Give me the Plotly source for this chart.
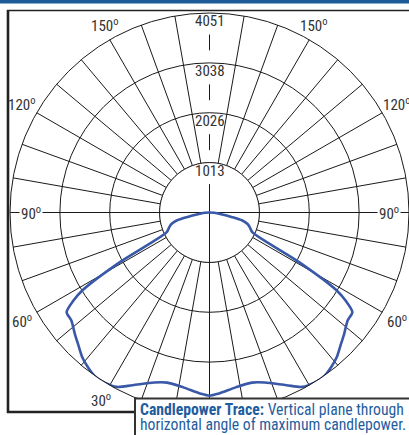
import numpy as np
import plotly.graph_objects as go

# ---------------- data ----------------
radial_ticks = [1013, 2026, 3038, 4051]
radial_tick_labels = ["1013", "2026", "3038", "4051"]

# vertical angle from nadir (deg) and candela, one side of the plane
trace_angles = [0, 3, 8.5, 14, 18, 24, 28, 32, 35, 38.4, 41.4, 44.6, 48, 52,
                55.1, 57.1, 58.5, 61, 65.3, 70, 73.4, 76.3, 78.4, 82, 86, 90]
trace_candela = [3720, 3680, 3590, 3560, 3630, 3838, 4010, 4060, 4060, 3990,
                 3910, 3790, 3680, 3560, 3537, 3290, 3030, 2080, 957, 869,
                 801, 686, 473, 195, 90, 0]

angle_label_values = [150, 120, 90, 60, 30]

# ---------------- geometry ----------------
W, H = 409, 435
CX, CY, R = 209.5, 212.5, 199.5
RMAX = radial_ticks[-1]


def px(x):
    return x / W


def py(y):
    return 1 - y / H


font_family = "Liberation Sans Narrow, Arial Narrow, Roboto Condensed, Liberation Sans, sans-serif"
line_col = "#1a1a1a"

fig = go.Figure()

# white mask for the inner circle (hides radial grid inside)
circ_t = np.linspace(0, 360, 181)
fig.add_trace(go.Scatterpolar(
    r=[radial_ticks[0]] * len(circ_t), theta=circ_t, mode="lines",
    fill="toself", fillcolor="white", line=dict(color=line_col, width=1),
    hoverinfo="skip", showlegend=False))

# horizontal diameter
fig.add_trace(go.Scatterpolar(
    r=[RMAX, 0, RMAX], theta=[270, 0, 90], mode="lines",
    line=dict(color=line_col, width=1), hoverinfo="skip", showlegend=False))

# vertical line: bottom half fully, top half in segments between labels
fig.add_trace(go.Scatterpolar(
    r=[RMAX, 0], theta=[0, 0], mode="lines",
    line=dict(color=line_col, width=1), hoverinfo="skip", showlegend=False))


def r_of_py(yp):
    return (CY - yp) / R * RMAX


label_py = [CY - t / RMAX * R + 8.5 for t in radial_ticks]
seg_edges = [CY]
for ly in label_py:
    seg_edges += [ly + 13, ly - 21]
segs = [(seg_edges[0], seg_edges[1])]
for i in range(2, len(seg_edges) - 1, 2):
    segs.append((seg_edges[i], seg_edges[i + 1]))
for a, b in segs:
    if a > b:
        fig.add_trace(go.Scatterpolar(
            r=[max(r_of_py(a), 0), min(r_of_py(b), RMAX)], theta=[180, 180],
            mode="lines", line=dict(color=line_col, width=1),
            hoverinfo="skip", showlegend=False))

# candlepower trace (left side mirrored to right)
left_theta = [-a for a in trace_angles[::-1]]
left_r = trace_candela[::-1]
right_theta = trace_angles[1:]
right_r = trace_candela[1:]
fig.add_trace(go.Scatterpolar(
    r=left_r + right_r, theta=left_theta + right_theta, mode="lines",
    line=dict(color="#3a58a8", width=2.6, shape="spline", smoothing=0.8),
    hoverinfo="skip", showlegend=False))

grid_ticks = [a for a in range(0, 360, 10) if a % 90 != 0]

fig.update_layout(
    width=W, height=H,
    margin=dict(l=0, r=0, t=0, b=0),
    paper_bgcolor="white",
    showlegend=False,
    polar=dict(
        domain=dict(x=[px(CX - R), px(CX + R)], y=[py(CY + R), py(CY - R)]),
        bgcolor="white",
        radialaxis=dict(range=[0, RMAX], tickvals=radial_ticks,
                        showticklabels=False, ticks="", showline=False,
                        gridcolor=line_col, gridwidth=1),
        angularaxis=dict(rotation=270, direction="counterclockwise",
                         tickmode="array", tickvals=grid_ticks,
                         showticklabels=False, ticks="",
                         showgrid=True, gridcolor=line_col, gridwidth=1,
                         showline=True, linecolor=line_col, linewidth=1),
    ),
)

shapes = []
# top blue bar
shapes.append(dict(type="rect", xref="paper", yref="paper", x0=0, x1=1,
                   y0=py(3.5), y1=1, fillcolor="#1c5a98", line=dict(width=0)))
# frame
shapes.append(dict(type="line", xref="paper", yref="paper", x0=px(7), x1=1,
                   y0=py(10.5), y1=py(10.5), line=dict(color="#222", width=1.6)))
shapes.append(dict(type="line", xref="paper", yref="paper", x0=px(8), x1=px(8),
                   y0=py(10), y1=py(413), line=dict(color="#222", width=2.6)))
shapes.append(dict(type="line", xref="paper", yref="paper", x0=px(7), x1=px(136),
                   y0=py(412), y1=py(412), line=dict(color="#222", width=2.6)))
# caption box
shapes.append(dict(type="rect", xref="paper", yref="paper", x0=px(135), x1=px(412),
                   y0=py(440), y1=py(398.5), fillcolor="white",
                   line=dict(color="#333", width=2)))
fig.update_layout(shapes=shapes)

annotations = []
for t, lab, ly in zip(radial_ticks, radial_tick_labels, label_py):
    annotations.append(dict(x=px(CX), y=py(ly), xref="paper", yref="paper",
                            text=lab, showarrow=False, xanchor="center",
                            yanchor="middle",
                            font=dict(family=font_family, size=15, color="#333")))

for a in angle_label_values:
    rl = 179 if a == 90 else 217
    for side in (-1, 1):
        if a == 30 and side == 1:
            continue  # hidden behind the caption box
        x = CX + side * rl * np.sin(np.radians(a))
        y = CY + rl * np.cos(np.radians(a))
        if a == 150:
            x -= side * 4
        annotations.append(dict(x=px(x), y=py(y), xref="paper", yref="paper",
                                text=f"{a}<sup>o</sup>", showarrow=False,
                                xanchor="center", yanchor="middle",
                                bgcolor="white" if a == 90 else None,
                                borderpad=1,
                                font=dict(family=font_family, size=15, color="#333")))

cap_col = "#1f5e9e"
annotations.append(dict(x=px(138), y=py(409), xref="paper", yref="paper",
                        text="<b>Candlepower Trace:</b> Vertical plane through",
                        showarrow=False, xanchor="left", yanchor="middle",
                        font=dict(family=font_family, size=15.7, color=cap_col)))
annotations.append(dict(x=px(138), y=py(424.5), xref="paper", yref="paper",
                        text="horizontal angle of maximum candlepower.",
                        showarrow=False, xanchor="left", yanchor="middle",
                        font=dict(family=font_family, size=15.7, color=cap_col)))
fig.update_layout(annotations=annotations)

fig.write_html(
    "out.html",
    config={"displayModeBar": False},
    post_script="document.body.style.margin='0';document.body.style.overflow='hidden';",
)
